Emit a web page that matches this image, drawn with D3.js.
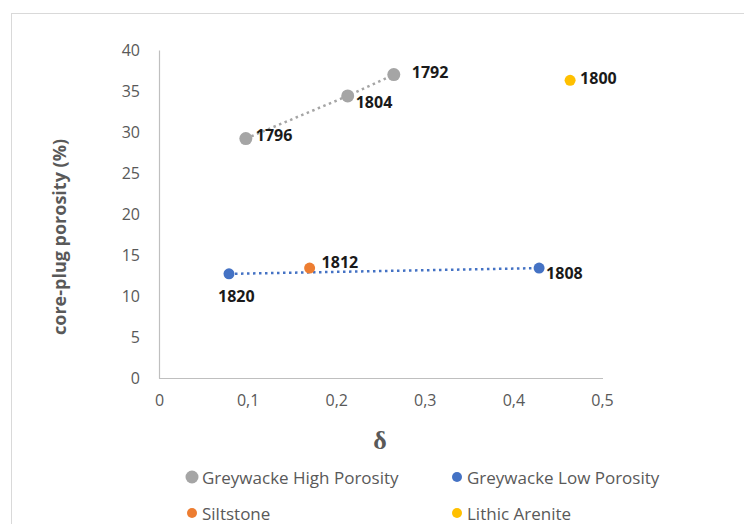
<!DOCTYPE html>
<html><head><meta charset="utf-8">
<script src="https://cdn.jsdelivr.net/npm/d3@7"></script>
<style>body{margin:0;background:#fff}svg{display:block}</style>
</head><body>
<svg id="c" width="744" height="524"></svg>
<script>
// Data
const seriesNames = ["Greywacke High Porosity", "Greywacke Low Porosity", "Siltstone", "Lithic Arenite"];
const seriesColors = ["#A5A5A5", "#4472C4", "#ED7D31", "#FFC000"];
const highX = [0.098, 0.213, 0.265];
const highY = [29.2, 34.4, 37.0];
const highLabels = ["1796", "1804", "1792"];
const lowX = [0.079, 0.429];
const lowY = [12.7, 13.4];
const lowLabels = ["1820", "1808"];
const siltX = [0.170];
const siltY = [13.4];
const siltLabels = ["1812"];
const lithX = [0.464];
const lithY = [36.3];
const lithLabels = ["1800"];
const xTicks = [0, 0.1, 0.2, 0.3, 0.4, 0.5];
const yTicks = [0, 5, 10, 15, 20, 25, 30, 35, 40];

const svg = d3.select("#c");
svg.append("rect").attr("x", 11.5).attr("y", 13.5).attr("width", 800).attr("height", 600)
  .attr("fill", "#fff").attr("stroke", "#d9d9d9");

const x = d3.scaleLinear().domain([0, 0.5]).range([159, 602]);
const y = d3.scaleLinear().domain([0, 40]).range([378, 50]);
const fmt = d => d === 0 ? "0" : String(d).replace(".", ",");

// axes
const xAxis = svg.append("g").attr("transform", "translate(0,378)")
  .call(d3.axisBottom(x).tickValues(xTicks).tickFormat(fmt).tickSize(0).tickPadding(17));
const yAxis = svg.append("g").attr("transform", "translate(159,0)")
  .call(d3.axisLeft(y).tickValues(yTicks).tickFormat(d => d).tickSize(0).tickPadding(19));
[xAxis, yAxis].forEach(a => {
  a.select(".domain").attr("stroke", "#bfbfbf").attr("stroke-width", 1.2);
  a.selectAll("text").attr("fill", "#595959").style("font-family", "'Open Sans'").style("font-size", "16px");
});
xAxis.select(".domain").attr("d", `M${x(0)},0.5H${x(0.5)+1}`);

// axis titles
svg.append("text").attr("transform", "translate(61,237) rotate(-90)").attr("text-anchor", "middle")
  .attr("dominant-baseline", "middle").attr("fill", "#595959")
  .style("font-family", "'Open Sans'").style("font-weight", "bold").style("font-size", "18px")
  .text("core-plug porosity (%)");
svg.append("text").attr("x", 380).attr("y", 449).attr("text-anchor", "middle").attr("fill", "#595959")
  .style("font-family", "'Liberation Serif'").style("font-weight", "bold").style("font-size", "26px")
  .text("δ");

// trend lines
const line = d3.line().x(d => x(d[0])).y(d => y(d[1]));
svg.append("path").datum(d3.zip(highX, highY)).attr("d", line).attr("fill", "none")
  .attr("stroke", seriesColors[0]).attr("stroke-width", 2.5).attr("stroke-dasharray", "2.5 3.5");
svg.append("path").datum(d3.zip(lowX, lowY)).attr("d", line).attr("fill", "none")
  .attr("stroke", seriesColors[1]).attr("stroke-width", 2.5).attr("stroke-dasharray", "2.5 3.5");

// markers + labels
const series = [
  {xs: highX, ys: highY, labels: highLabels, c: seriesColors[0], r: 6.5,
   off: [[10, -4], [8, 6], [18, -3]]},
  {xs: lowX, ys: lowY, labels: lowLabels, c: seriesColors[1], r: 5.5,
   off: [[-11, 22], [7, 5]]},
  {xs: siltX, ys: siltY, labels: siltLabels, c: seriesColors[2], r: 5.5, off: [[12, -6]]},
  {xs: lithX, ys: lithY, labels: lithLabels, c: seriesColors[3], r: 5.5, off: [[10, -2]]}
];
series.forEach(s => {
  const g = svg.append("g");
  s.xs.forEach((xv, i) => {
    g.append("circle").attr("cx", x(xv)).attr("cy", y(s.ys[i])).attr("r", s.r).attr("fill", s.c);
    g.append("text").attr("x", x(xv) + s.off[i][0]).attr("y", y(s.ys[i]) + s.off[i][1])
      .attr("dominant-baseline", "central").attr("fill", "#1a1a1a")
      .style("font-family", "'Open Sans'").style("font-weight", "bold").style("font-size", "16px")
      .text(s.labels[i]);
  });
});

// legend
const legPos = [[192, 477], [457, 477], [192, 513], [457, 513]];
const legR = [6.5, 5, 5, 5];
seriesNames.forEach((n, i) => {
  svg.append("circle").attr("cx", legPos[i][0]).attr("cy", legPos[i][1]).attr("r", legR[i]).attr("fill", seriesColors[i]);
  svg.append("text").attr("x", legPos[i][0] + 10).attr("y", legPos[i][1]).attr("dominant-baseline", "central")
    .attr("fill", "#595959").style("font-family", "'Open Sans'").style("font-size", "17px").text(n);
});
</script>
</body></html>
